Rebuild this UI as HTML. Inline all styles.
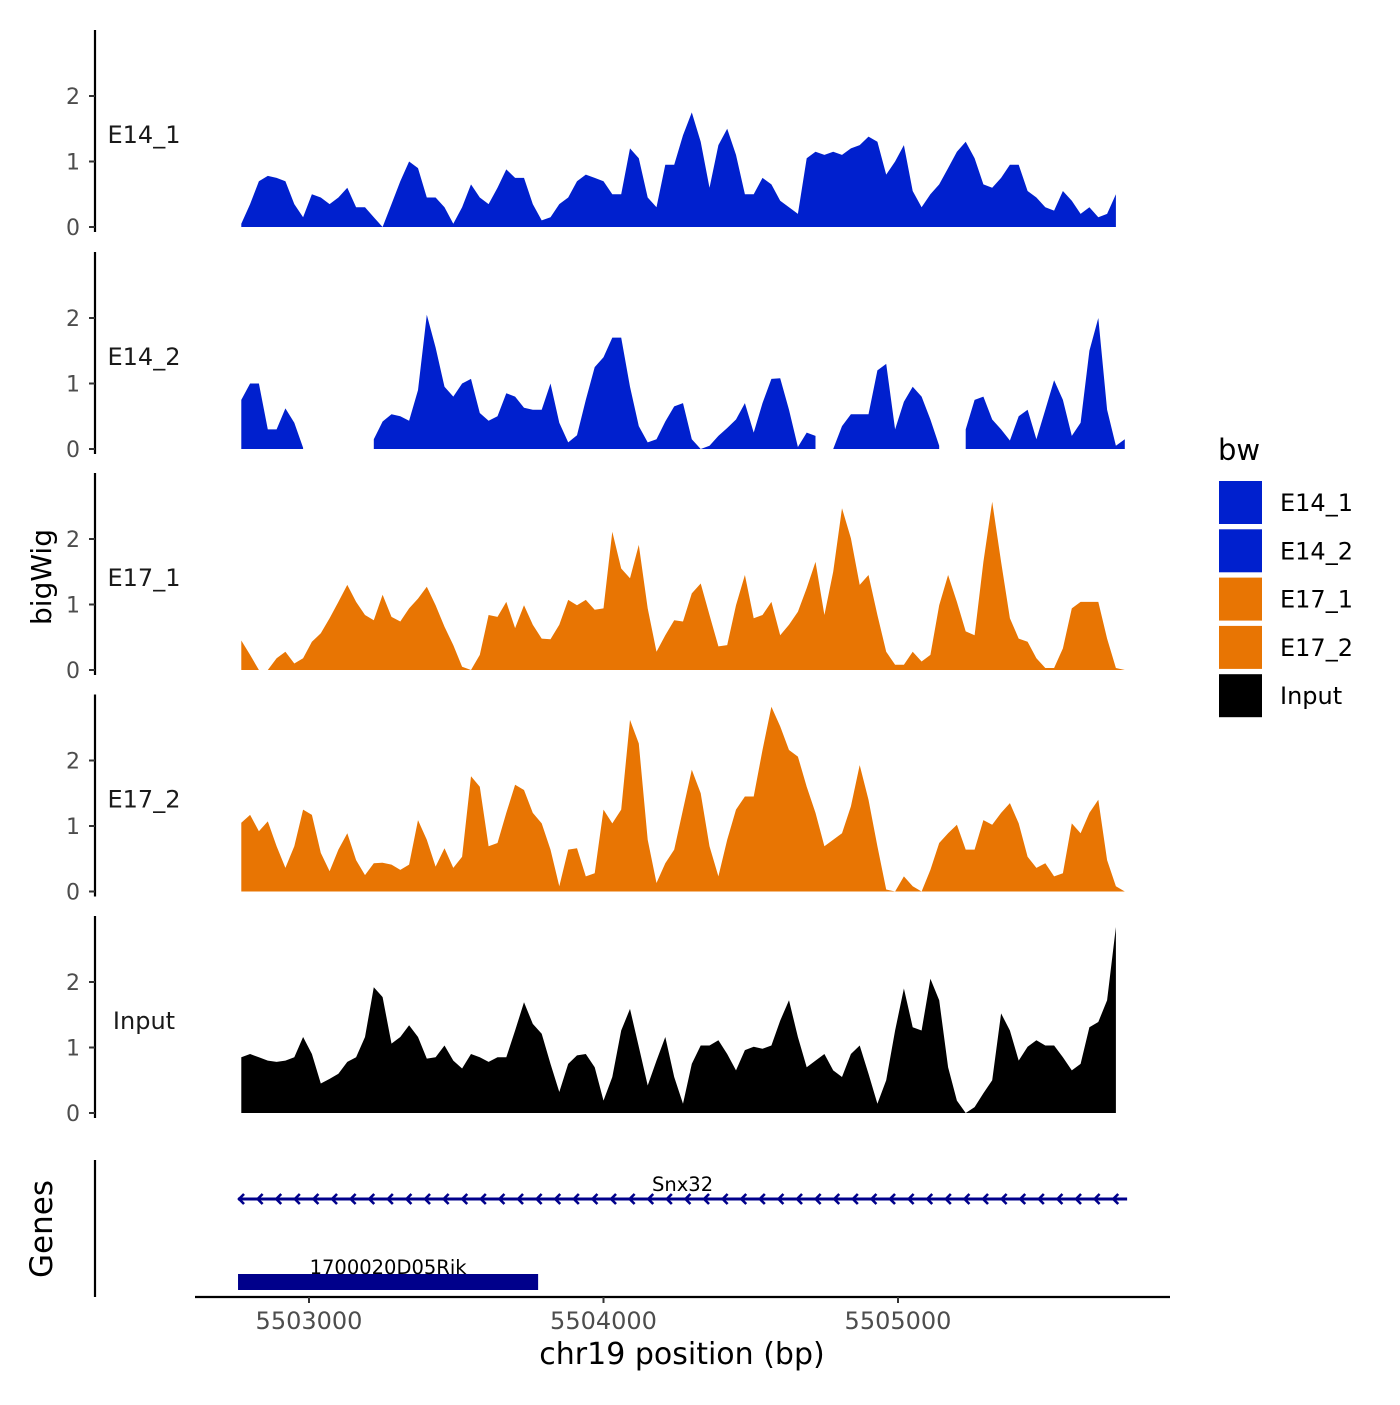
<!DOCTYPE html>
<html><head><meta charset="utf-8"><style>
body{margin:0;background:#fff}
svg text{font-family:"DejaVu Sans","Liberation Sans",sans-serif}
</style></head><body>
<svg id="chart" width="1400" height="1400" viewBox="0 0 1400 1400" xmlns="http://www.w3.org/2000/svg">
<rect width="1400" height="1400" fill="#fff"/>
<g id="tracks"></g>
<g id="genes"></g>
<g id="xaxis"></g>
<text x="51" y="577" transform="rotate(-90 51 577)" text-anchor="middle" font-size="28">bigWig</text>
<text x="52" y="1229" transform="rotate(-90 52 1229)" text-anchor="middle" font-size="31">Genes</text>
<text x="682" y="1364" text-anchor="middle" font-size="30">chr19 position (bp)</text>
<g id="legend"></g>
</svg>
<script>
const startBp = 5502770;
const stepBp = 30;
const trackNames = ["E14_1","E14_2","E17_1","E17_2","Input"];
const trackColors = ["#0020ce","#0020ce","#e87503","#e87503","#000000"];
const e14_1 = [0.05,0.35,0.7,0.78,0.75,0.7,0.35,0.15,0.5,0.45,0.35,0.45,0.6,0.3,0.3,0.15,0.0,0.35,0.7,1.0,0.9,0.45,0.45,0.3,0.05,0.3,0.65,0.45,0.35,0.6,0.88,0.75,0.75,0.35,0.1,0.15,0.35,0.45,0.7,0.8,0.75,0.7,0.5,0.5,1.2,1.05,0.45,0.3,0.95,0.95,1.4,1.75,1.3,0.6,1.25,1.5,1.1,0.5,0.5,0.75,0.65,0.4,0.3,0.2,1.05,1.15,1.1,1.15,1.1,1.2,1.25,1.38,1.3,0.8,1.0,1.25,0.55,0.3,0.5,0.65,0.9,1.15,1.3,1.05,0.65,0.6,0.75,0.95,0.95,0.55,0.45,0.3,0.25,0.55,0.4,0.2,0.3,0.15,0.2,0.5,null];
const e14_2 = [0.75,1.0,1.0,0.3,0.3,0.62,0.4,0.02,null,null,null,null,null,null,null,0.15,0.42,0.53,0.5,0.43,0.9,2.05,1.55,0.95,0.8,1.0,1.07,0.55,0.43,0.5,0.85,0.8,0.63,0.6,0.6,1.0,0.4,0.1,0.21,0.75,1.25,1.4,1.7,1.7,0.95,0.35,0.1,0.15,0.42,0.65,0.7,0.15,0.0,0.05,0.2,0.32,0.45,0.7,0.25,0.7,1.07,1.08,0.6,0.03,0.25,0.2,null,0.0,0.35,0.53,0.53,0.53,1.2,1.3,0.3,0.72,0.95,0.8,0.45,0.05,null,null,0.3,0.75,0.8,0.45,0.3,0.13,0.5,0.6,0.15,0.6,1.05,0.75,0.2,0.4,1.5,2.0,0.6,0.05,0.15];
const e17_1 = [0.45,0.23,0,0,0.18,0.28,0.1,0.18,0.43,0.56,0.79,1.04,1.3,1.04,0.84,0.76,1.15,0.81,0.74,0.94,1.09,1.27,0.99,0.66,0.38,0.05,0,0.23,0.84,0.81,1.04,0.64,0.99,0.69,0.48,0.47,0.69,1.07,0.99,1.07,0.92,0.94,2.11,1.55,1.4,1.91,0.94,0.28,0.53,0.76,0.74,1.17,1.32,0.84,0.36,0.38,0.99,1.45,0.79,0.84,1.04,0.53,0.69,0.89,1.25,1.65,0.84,1.5,2.47,2.01,1.3,1.45,0.84,0.28,0.08,0.08,0.28,0.13,0.23,0.99,1.45,1.04,0.59,0.53,1.65,2.57,1.65,0.79,0.48,0.43,0.18,0.03,0.03,0.33,0.94,1.04,1.04,1.04,0.48,0.03,0];
const e17_2 = [1.05,1.17,0.92,1.07,0.69,0.36,0.69,1.25,1.17,0.59,0.31,0.64,0.89,0.48,0.25,0.43,0.44,0.41,0.33,0.41,1.09,0.79,0.38,0.66,0.36,0.53,1.76,1.6,0.69,0.74,1.2,1.63,1.55,1.2,1.04,0.64,0.08,0.64,0.66,0.23,0.28,1.25,1.04,1.25,2.62,2.26,0.79,0.13,0.43,0.64,1.25,1.86,1.5,0.69,0.23,0.79,1.25,1.45,1.45,2.16,2.82,2.52,2.16,2.06,1.6,1.2,0.69,0.79,0.89,1.3,1.93,1.4,0.69,0.03,0,0.23,0.08,0,0.33,0.74,0.89,1.02,0.64,0.64,1.09,1.02,1.2,1.35,1.04,0.53,0.36,0.43,0.23,0.28,1.04,0.89,1.2,1.4,0.48,0.08,0];
const inputVals = [0.85,0.9,0.85,0.8,0.78,0.8,0.85,1.16,0.9,0.45,0.52,0.6,0.78,0.85,1.16,1.92,1.77,1.06,1.16,1.34,1.16,0.83,0.85,1.03,0.8,0.68,0.9,0.85,0.78,0.85,0.85,1.26,1.69,1.36,1.21,0.75,0.32,0.75,0.88,0.9,0.7,0.19,0.55,1.26,1.59,1.01,0.42,0.8,1.16,0.55,0.14,0.75,1.03,1.03,1.11,0.9,0.65,0.96,1.01,0.98,1.03,1.41,1.72,1.16,0.7,0.8,0.9,0.65,0.55,0.9,1.03,0.6,0.14,0.5,1.26,1.9,1.31,1.26,2.05,1.72,0.7,0.19,0,0.09,0.3,0.5,1.52,1.26,0.8,1.01,1.11,1.03,1.03,0.85,0.65,0.75,1.31,1.39,1.72,2.84,null];
const trackValues = [e14_1,e14_2,e17_1,e17_2,inputVals];
const yTicks = [0,1,2];
const xTicks = [5503000,5504000,5505000];
const geneNames = ["Snx32","1700020D05Rik"];
const geneStarts = [5502759,5502759];
const geneEnds = [5505778,5503778];
const geneStrands = ["-","-"];

const NS="http://www.w3.org/2000/svg";
function mk(tag,attrs,parent){const e=document.createElementNS(NS,tag);for(const k in attrs)e.setAttribute(k,attrs[k]);parent.appendChild(e);return e;}
function xScale(bp){return 309+(bp-5503000)*0.2945;}
const trackBase=[227,449,670,891.5,1113];
const unitPx=65.5;
function yScale(t,v){return trackBase[t]-v*unitPx;}

const tracksG=document.getElementById('tracks');
trackNames.forEach((name,t)=>{
  const g=mk('g',{},tracksG);
  
  
  const vals=trackValues[t];
  let seg=[];
  const segs=[];
  vals.forEach((v,i)=>{ if(v===null){ if(seg.length)segs.push(seg); seg=[]; } else seg.push([startBp+i*stepBp,v]); });
  if(seg.length)segs.push(seg);
  segs.forEach(s=>{
    let d='M'+xScale(s[0][0]).toFixed(1)+','+trackBase[t];
    s.forEach(p=>{d+='L'+xScale(p[0]).toFixed(1)+','+yScale(t,p[1]).toFixed(1);});
    d+='L'+xScale(s[s.length-1][0]).toFixed(1)+','+trackBase[t]+'Z';
    const p=mk('path',{d:d,fill:trackColors[t]},g);
    
    
  });
  const ax=mk('line',{x1:95,x2:95,y1:trackBase[t]-197,y2:trackBase[t]+5,stroke:'#000','stroke-width':2.2},g);
  
  
  yTicks.forEach(v=>{
    const y=yScale(t,v);
    const tk=mk('line',{x1:89,x2:95,y1:y,y2:y,stroke:'#333','stroke-width':2},g);
    
    
    const tx=mk('text',{x:80,y:y+8,'text-anchor':'end','font-size':22,fill:'#4d4d4d'},g);
    
    
    tx.textContent=v;
  });
  const lb=mk('text',{x:144,y:trackBase[t]-84,'text-anchor':'middle','font-size':24,fill:'#1a1a1a'},g);
  
  
  lb.textContent=name;
});

const gg=document.getElementById('genes');
const gax=mk('line',{x1:95,x2:95,y1:1160,y2:1297,stroke:'#000','stroke-width':2.2},gg);


const geneY=[1199,1282];
geneNames.forEach((n,i)=>{
  const x1=xScale(geneStarts[i]),x2=xScale(geneEnds[i]);
  const grp=mk('g',{},gg);
  
  
  if(i===0){
    mk('line',{x1:x1,x2:x2,y1:geneY[i],y2:geneY[i],stroke:'#00008b','stroke-width':3},grp);
    for(let x=x1+1;x<x2-6;x+=18.6){
      mk('path',{d:`M${x+5},${geneY[i]-5}L${x},${geneY[i]}L${x+5},${geneY[i]+5}`,fill:'none',stroke:'#00008b','stroke-width':2.6},grp);
    }
  } else {
    mk('rect',{x:x1,y:geneY[i]-8,width:x2-x1,height:16,fill:'#00008b'},grp);
  }
  const t=mk('text',{x:(x1+x2)/2,y:geneY[i]-8,'text-anchor':'middle','font-size':19.5,fill:'#000'},grp);
  
  
  t.textContent=n;
});

const xg=document.getElementById('xaxis');
mk('line',{x1:195,x2:1170,y1:1297,y2:1297,stroke:'#000','stroke-width':2.2},xg);
xTicks.forEach(b=>{
  const x=xScale(b);
  const tk=mk('line',{x1:x,x2:x,y1:1297,y2:1303,stroke:'#333','stroke-width':2},xg);
  
  
  const tx=mk('text',{x:x,y:1329,'text-anchor':'middle','font-size':24,fill:'#4d4d4d'},xg);
  
  
  tx.textContent=b;
});

const lg=document.getElementById('legend');
const lt=mk('text',{x:1218,y:460,'font-size':29,fill:'#000'},lg);


lt.textContent='bw';
trackNames.forEach((n,i)=>{
  const y=481+i*48.3;
  const e=mk('g',{},lg);
  
  
  mk('rect',{x:1219,y:y,width:43,height:43,fill:trackColors[i]},e);
  const t=mk('text',{x:1280,y:y+30,'font-size':24,fill:'#000'},e);
  t.textContent=n;
});
</script>
</body></html>
